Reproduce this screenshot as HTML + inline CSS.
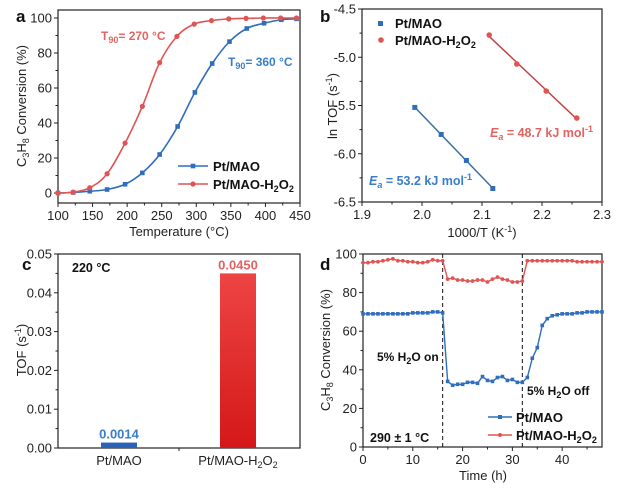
<!DOCTYPE html>
<html><head><meta charset="utf-8"><style>
html,body{margin:0;padding:0;background:#fff}
svg{display:block;font-family:"Liberation Sans",Arial,sans-serif}
</style></head><body>
<svg id="fig" width="629" height="491" viewBox="0 0 629 491"></svg>
<script>
// ---- Panel a data ----
const aTemps = [100,122,146,171,197,222,247,273,298,323,348,373,398,423,445];
const aBlue  = [0,0.3,1,2,5,11.5,22,38,57.5,74,86.5,94,97,99,99.5];
const aRedT  = [100,122,146,171,197,222,247,272,297,322,347,372,397,422,445];
const aRed   = [0,0.5,3,11,28.5,49.5,74.5,89.5,96.5,98.5,99.5,99.8,100,100,100];
const aXTicks = [100,150,200,250,300,350,400,450];
const aYTicks = [0,20,40,60,80,100];
// ---- Panel b data ----
const bBlueX = [1.988,2.032,2.074,2.118];
const bBlueY = [-5.52,-5.80,-6.07,-6.36];
const bRedX  = [2.112,2.158,2.207,2.258];
const bRedY  = [-4.77,-5.07,-5.35,-5.63];
const bXTicks = [1.9,2.0,2.1,2.2,2.3];
const bYTicks = [-6.5,-6.0,-5.5,-5.0,-4.5];
// ---- Panel c data ----
const cCats = ["Pt/MAO","Pt/MAO-H2O2"];
const cVals = [0.0014,0.0450];
const cLabels = ["0.0014","0.0450"];
const cYTicks = [0,0.01,0.02,0.03,0.04,0.05];
// ---- Panel d data ----
const dTime = [0,1,2,3,4,5,6,7,8,9,10,11,12,13,14,15,16,17,18,19,20,21,22,23,24,25,26,27,28,29,30,31,32,33,34,35,36,37,38,39,40,41,42,43,44,45,46,47,48];
const dBlue = [69,69,69,69,69,69,69,69,69,69,69.5,69.5,69.5,69.5,70,70,69.5,34,32,32.5,32.5,33.5,33.5,33,36.5,34.5,34,36,36.5,34.5,35,33.5,33.5,36,46,51.5,63,66.5,68,68.5,69,69,69,69.5,69.5,70,70,70,70];
const dRed  = [95.5,95.5,96,96,96.5,97,97.5,96.5,96.5,96,96,95.5,95.5,96,97,96.5,96.5,87,87.5,86.5,86.5,86,86,86.5,86.5,85.5,87,88,87,86.5,85.5,85.5,86,96.5,96.5,96.5,96.5,96.5,96.5,96.5,96.5,96.5,96.5,96,96,96,96,96,96];
const dXTicks = [0,10,20,30,40];
const dYTicks = [0,20,40,60,80,100];

const BLUE="#2f6dbf", RED="#e05454", BLUET="#3a7ec9", REDT="#e46262";
const svg=document.getElementById('fig');
const NS="http://www.w3.org/2000/svg";
function el(tag,attrs,parent){const e=document.createElementNS(NS,tag);for(const k in attrs)e.setAttribute(k,attrs[k]);(parent||svg).appendChild(e);return e;}
function lin(d0,d1,r0,r1){return v=>r0+(v-d0)*(r1-r0)/(d1-d0);}
function smooth(pts){let d=`M${pts[0][0]},${pts[0][1]}`;for(let i=0;i<pts.length-1;i++){const p0=pts[Math.max(0,i-1)],p1=pts[i],p2=pts[i+1],p3=pts[Math.min(pts.length-1,i+2)];const t=0.18;d+=` C${p1[0]+(p2[0]-p0[0])*t},${p1[1]+(p2[1]-p0[1])*t} ${p2[0]-(p3[0]-p1[0])*t},${p2[1]-(p3[1]-p1[1])*t} ${p2[0]},${p2[1]}`;}return d;}
function txt(x,y,s,attrs,parent){const t=el('text',Object.assign({x:x,y:y,'font-size':13,fill:'#222'},attrs||{}),parent);t.innerHTML=s;return t;}

function axes(g,L,R,T,B,xs,xt,xfmt,ys,yt,yfmt,xminor,yminor){
  el('rect',{x:L,y:T,width:R-L,height:B-T,fill:'none',stroke:'#222','stroke-width':1.2},g);
  xt.forEach(v=>{const x=xs(v);el('line',{x1:x,x2:x,y1:B,y2:B+4,stroke:'#222'},g);txt(x,B+17,xfmt(v),{'text-anchor':'middle'},g);});
  (xminor||[]).forEach(v=>{const x=xs(v);el('line',{x1:x,x2:x,y1:B,y2:B+2.5,stroke:'#222'},g);});
  yt.forEach(v=>{const y=ys(v);el('line',{x1:L-4,x2:L,y1:y,y2:y,stroke:'#222'},g);txt(L-6,y+4.5,yfmt(v),{'text-anchor':'end'},g);});
  (yminor||[]).forEach(v=>{const y=ys(v);el('line',{x1:L-2.5,x2:L,y1:y,y2:y,stroke:'#222'},g);});
}
function mids(t){const m=[];for(let i=0;i<t.length-1;i++)m.push((t[i]+t[i+1])/2);return m;}

// ===== Panel a =====
{
const g=el('g',{});


const xs=lin(100,450,58,300), ys=lin(0,100,193,18);
axes(g,58,300,10,203,xs,aXTicks,v=>v,ys,aYTicks,v=>v,mids(aXTicks),mids(aYTicks));
const bp=aTemps.map((t,i)=>[xs(t),ys(aBlue[i])]);
const rp=aRedT.map((t,i)=>[xs(t),ys(aRed[i])]);
const bl=el('path',{d:smooth(bp),fill:'none',stroke:BLUE,'stroke-width':1.6},g);

const rl=el('path',{d:smooth(rp),fill:'none',stroke:RED,'stroke-width':1.6},g);

bp.forEach(p=>{const m=el('rect',{x:p[0]-2.3,y:p[1]-2.3,width:4.6,height:4.6,fill:BLUE},g);});
rp.forEach(p=>{const m=el('circle',{cx:p[0],cy:p[1],r:2.6,fill:RED},g);});
txt(16,22,'a',{'font-size':17,'font-weight':'bold',fill:'#111'},g);
const yt=txt(0,0,'C<tspan font-size="9" dy="3">3</tspan><tspan dy="-3">H</tspan><tspan font-size="9" dy="3">8</tspan><tspan dy="-3"> Conversion (%)</tspan>',{transform:'translate(26,106) rotate(-90)','text-anchor':'middle'},g);

txt(179,236,'Temperature (°C)',{'text-anchor':'middle'},g);
txt(101,40,'T<tspan font-size="9" dy="3">90</tspan><tspan dy="-3">= 270 °C</tspan>',{fill:REDT,'font-weight':'bold','font-size':12},g);
txt(228,66,'T<tspan font-size="9" dy="3">90</tspan><tspan dy="-3">= 360 °C</tspan>',{fill:BLUET,'font-weight':'bold','font-size':12},g);
el('line',{x1:178,x2:208,y1:166,y2:166,stroke:BLUE,'stroke-width':1.6},g);el('rect',{x:190.7,y:163.7,width:4.6,height:4.6,fill:BLUE},g);
txt(213,171,'Pt/MAO',{'font-weight':'bold','font-size':13,fill:'#111'},g);
el('line',{x1:178,x2:208,y1:184,y2:184,stroke:RED,'stroke-width':1.6},g);el('circle',{cx:193,cy:184,r:2.6,fill:RED},g);
txt(213,189,'Pt/MAO-H<tspan font-size="9" dy="3">2</tspan><tspan dy="-3">O</tspan><tspan font-size="9" dy="3">2</tspan>',{'font-weight':'bold','font-size':13,fill:'#111'},g);
}
// ===== Panel b =====
{
const g=el('g',{});


const xs=lin(1.9,2.3,362,602), ys=lin(-4.5,-6.5,9,202);
axes(g,362,602,9,202,xs,bXTicks,v=>v.toFixed(1),ys,bYTicks,v=>v.toFixed(1),mids(bXTicks),mids(bYTicks));
function fitLine(X,Y,col,name){const n=X.length;const mx=X.reduce((a,b)=>a+b)/n,my=Y.reduce((a,b)=>a+b)/n;let sxy=0,sxx=0;X.forEach((x,i)=>{sxy+=(x-mx)*(Y[i]-my);sxx+=(x-mx)*(x-mx);});const k=sxy/sxx;const x0=X[0],x1=X[n-1];const l=el('line',{x1:xs(x0),y1:ys(my+k*(x0-mx)),x2:xs(x1),y2:ys(my+k*(x1-mx)),stroke:col,'stroke-width':1.5},g);}
fitLine(bBlueX,bBlueY,'#3d6f9f','pt-mao-fit-line');
fitLine(bRedX,bRedY,'#c04545','pt-mao-h2o2-fit-line');
bBlueX.forEach((x,i)=>{const m=el('rect',{x:xs(x)-2.5,y:ys(bBlueY[i])-2.5,width:5,height:5,fill:BLUE},g);});
bRedX.forEach((x,i)=>{const m=el('circle',{cx:xs(x),cy:ys(bRedY[i]),r:2.8,fill:RED},g);});
txt(320,22,'b',{'font-size':17,'font-weight':'bold',fill:'#111'},g);
txt(0,0,'ln TOF (s<tspan font-size="9" dy="-5">-1</tspan><tspan dy="5">)</tspan>',{transform:'translate(337,106) rotate(-90)','text-anchor':'middle'},g);
txt(482,237,'1000/T (K<tspan font-size="9" dy="-5">-1</tspan><tspan dy="5">)</tspan>',{'text-anchor':'middle'},g);
el('rect',{x:378,y:21,width:5,height:5,fill:BLUE},g);
txt(395,28,'Pt/MAO',{'font-weight':'bold',fill:'#111'},g);
el('circle',{cx:381,cy:40,r:2.8,fill:RED},g);
txt(395,45,'Pt/MAO-H<tspan font-size="9" dy="3">2</tspan><tspan dy="-3">O</tspan><tspan font-size="9" dy="3">2</tspan>',{'font-weight':'bold',fill:'#111'},g);
txt(490,137,'<tspan font-style="italic">E<tspan font-size="9" dy="3">a</tspan></tspan><tspan dy="-3"> = 48.7 kJ mol</tspan><tspan font-size="9" dy="-5">-1</tspan>',{fill:REDT,'font-weight':'bold','font-size':12.5},g);
txt(369,185,'<tspan font-style="italic">E<tspan font-size="9" dy="3">a</tspan></tspan><tspan dy="-3"> = 53.2 kJ mol</tspan><tspan font-size="9" dy="-5">-1</tspan>',{fill:BLUET,'font-weight':'bold','font-size':12.5},g);
}
// ===== Panel c =====
{
const g=el('g',{});


const defs=el('defs',{},g);
const gr=el('linearGradient',{id:'rg',x1:0,y1:0,x2:0,y2:1},defs);
el('stop',{offset:0,'stop-color':'#ee4444'},gr);el('stop',{offset:1,'stop-color':'#d41818'},gr);
const ys=lin(0,0.05,448,254);
const cx=[119,238];
axes(g,58,300,254,448,lin(0,1,0,1),[],v=>v,ys,cYTicks,v=>v.toFixed(2),[],mids(cYTicks));
[179].forEach(x=>el('line',{x1:x,x2:x,y1:448,y2:451,stroke:'#222'},g));
cCats.forEach((c,i)=>{
  const b=el('rect',{x:cx[i]-18,y:ys(cVals[i]),width:36,height:448-ys(cVals[i]),fill:i?'url(#rg)':'#2a62b8'},g);
  
  const l=txt(cx[i],ys(cVals[i])-4,cLabels[i],{'text-anchor':'middle','font-weight':'bold','font-size':13,fill:i?REDT:BLUET},g);
  
  const lab=i?'Pt/MAO-H<tspan font-size="9" dy="3">2</tspan><tspan dy="-3">O</tspan><tspan font-size="9" dy="3">2</tspan>':c;
  txt(cx[i],465,lab,{'text-anchor':'middle'},g);
});
txt(22,270,'c',{'font-size':17,'font-weight':'bold',fill:'#111'},g);
txt(72,272,'220 °C',{'font-weight':'bold','font-size':12.5,fill:'#111'},g);
txt(0,0,'TOF (s<tspan font-size="9" dy="-5">-1</tspan><tspan dy="5">)</tspan>',{transform:'translate(26,350) rotate(-90)','text-anchor':'middle'},g);
}
// ===== Panel d =====
{
const g=el('g',{});


const xs=lin(0,48,363,602), ys=lin(0,100,447,254);
axes(g,363,602,254,447,xs,dXTicks,v=>v,ys,dYTicks,v=>v,[5,15,25,35,45],mids(dYTicks));
[16,32].forEach(t=>{const l=el('line',{x1:xs(t),x2:xs(t),y1:254,y2:447,stroke:'#111','stroke-dasharray':'4,3'},g);});
const bp=dTime.map((t,i)=>`${xs(t)},${ys(dBlue[i])}`).join(' ');
const rp=dTime.map((t,i)=>`${xs(t)},${ys(dRed[i])}`).join(' ');
const l1=el('polyline',{points:bp,fill:'none',stroke:BLUE,'stroke-width':1.4},g);
const l2=el('polyline',{points:rp,fill:'none',stroke:RED,'stroke-width':1.4},g);
dTime.forEach((t,i)=>{const m=el('rect',{x:xs(t)-1.8,y:ys(dBlue[i])-1.8,width:3.6,height:3.6,fill:BLUE},g);
const c=el('circle',{cx:xs(t),cy:ys(dRed[i]),r:1.9,fill:RED},g);});
txt(320,270,'d',{'font-size':17,'font-weight':'bold',fill:'#111'},g);
txt(0,0,'C<tspan font-size="9" dy="3">3</tspan><tspan dy="-3">H</tspan><tspan font-size="9" dy="3">8</tspan><tspan dy="-3"> Conversion (%)</tspan>',{transform:'translate(330,350) rotate(-90)','text-anchor':'middle'},g);
txt(483,480,'Time (h)',{'text-anchor':'middle'},g);
txt(377,361,'5% H<tspan font-size="9" dy="3">2</tspan><tspan dy="-3">O on</tspan>',{'font-weight':'bold','font-size':12,fill:'#111'},g);
txt(527,395,'5% H<tspan font-size="9" dy="3">2</tspan><tspan dy="-3">O off</tspan>',{'font-weight':'bold','font-size':12,fill:'#111'},g);
txt(370,442,'290 ± 1 °C',{'font-weight':'bold','font-size':12.5,fill:'#111'},g);
el('line',{x1:488,x2:512,y1:417,y2:417,stroke:BLUE,'stroke-width':1.4},g);el('rect',{x:498,y:415,width:4,height:4,fill:BLUE},g);
txt(516,422,'Pt/MAO',{'font-weight':'bold',fill:'#111'},g);
el('line',{x1:488,x2:512,y1:435,y2:435,stroke:RED,'stroke-width':1.4},g);el('circle',{cx:500,cy:435,r:2,fill:RED},g);
txt(516,440,'Pt/MAO-H<tspan font-size="9" dy="3">2</tspan><tspan dy="-3">O</tspan><tspan font-size="9" dy="3">2</tspan>',{'font-weight':'bold',fill:'#111'},g);
}
</script>
</body></html>
